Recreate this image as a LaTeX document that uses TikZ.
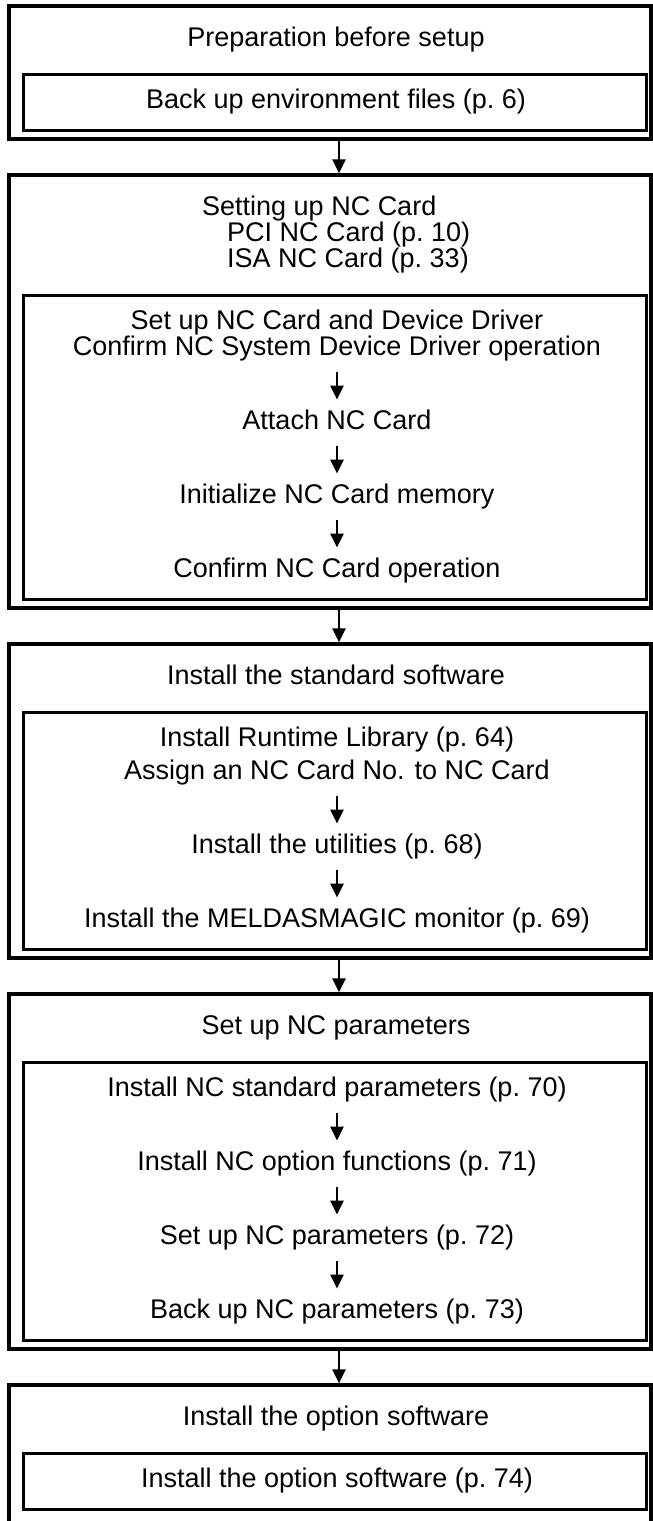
\documentclass[tikz,border=0pt]{standalone}
\usepackage{fontspec}
\setmainfont{Liberation Sans}
\usetikzlibrary{arrows.meta}

\tikzset{
  outerbox/.style={draw, line width=3.2pt, minimum width=642pt, inner sep=0pt},
  innerbox/.style={draw, line width=3pt, minimum width=623pt, inner sep=0pt},
  txt/.style={inner sep=0pt, text height=19pt, text depth=5.5pt, font=\fontsize{27}{29}\selectfont},
  flowarrow/.style={-{Triangle[length=14pt,width=13pt]}, line width=2.6pt},
  inarrow/.style={flowarrow, shorten <=11pt, shorten >=11pt}
}

\begin{document}
\begin{tikzpicture}[x=1pt,y=-1pt]
\useasboundingbox (0,0) rectangle (653,1521);

% outer boxes
\node[outerbox, minimum height=133pt] (prep) at (330,72.5) {};
\node[outerbox, minimum height=433pt] (card) at (330,391.5) {};
\node[outerbox, minimum height=314pt] (stdsw) at (330,801) {};
\node[outerbox, minimum height=355pt] (param) at (330,1171.5) {};
\node[outerbox, minimum height=145pt] (optsw) at (330,1457.5) {};

% inner boxes
\node[innerbox, minimum height=56pt] (prepin) at (334.5,102) {};
\node[innerbox, minimum height=304pt] (cardin) at (334.5,447) {};
\node[innerbox, minimum height=237pt] (stdswin) at (334.5,830.5) {};
\node[innerbox, minimum height=278pt] (paramin) at (334.5,1201) {};
\node[innerbox, minimum height=56pt] (optswin) at (334.5,1481) {};

% preparation
\node[txt] (preptitle) at (336,40) {Preparation before setup};
\node[txt] (backenv) at (336,102) {Back up environment files (p.~6)};

% NC card
\node[txt, anchor=west] (cardtitle) at (202,209) {Setting up NC Card};
\node[txt, anchor=west] (pcicard) at (227,235) {PCI NC Card (p.~10)};
\node[txt, anchor=west] (isacard) at (227,261) {ISA NC Card (p.~33)};
\node[txt] (setdrv) at (337,323) {Set up NC Card and Device Driver};
\node[txt] (confdrv) at (337,349) {Confirm NC System Device Driver operation};
\node[txt] (attach) at (337,423) {Attach NC Card};
\node[txt] (initmem) at (337,497) {Initialize NC Card memory};
\node[txt] (confcard) at (337,571) {Confirm NC Card operation};

% standard software
\node[txt] (stdtitle) at (336,678) {Install the standard software};
\node[txt] (runtime) at (337,740) {Install Runtime Library (p.~64)};
\node[txt] (assign) at (337,773) {Assign an NC Card No. to NC Card};
\node[txt] (utils) at (337,847) {Install the utilities (p.~68)};
\node[txt] (monitor) at (337,921) {Install the MELDASMAGIC monitor (p.~69)};

% NC parameters
\node[txt] (paramtitle) at (336,1028) {Set up NC parameters};
\node[txt] (stdparam) at (337,1090) {Install NC standard parameters (p.~70)};
\node[txt] (optfunc) at (337,1164) {Install NC option functions (p.~71)};
\node[txt] (setparam) at (337,1238) {Set up NC parameters (p.~72)};
\node[txt] (backparam) at (337,1312) {Back up NC parameters (p.~73)};

% option software
\node[txt] (opttitle) at (336,1419) {Install the option software};
\node[txt] (optinst) at (337,1481) {Install the option software (p.~74)};

% arrows between the boxes
\draw[flowarrow] ([xshift=9pt]prep.south) -- ([xshift=9pt]card.north);
\draw[flowarrow] ([xshift=9pt]card.south) -- ([xshift=9pt]stdsw.north);
\draw[flowarrow] ([xshift=9pt]stdsw.south) -- ([xshift=9pt]param.north);
\draw[flowarrow] ([xshift=9pt]param.south) -- ([xshift=9pt]optsw.north);

% arrows inside the boxes
\draw[inarrow] (confdrv) -- (attach);
\draw[inarrow] (attach) -- (initmem);
\draw[inarrow] (initmem) -- (confcard);
\draw[inarrow] (assign) -- (utils);
\draw[inarrow] (utils) -- (monitor);
\draw[inarrow] (stdparam) -- (optfunc);
\draw[inarrow] (optfunc) -- (setparam);
\draw[inarrow] (setparam) -- (backparam);
\end{tikzpicture}
\end{document}
